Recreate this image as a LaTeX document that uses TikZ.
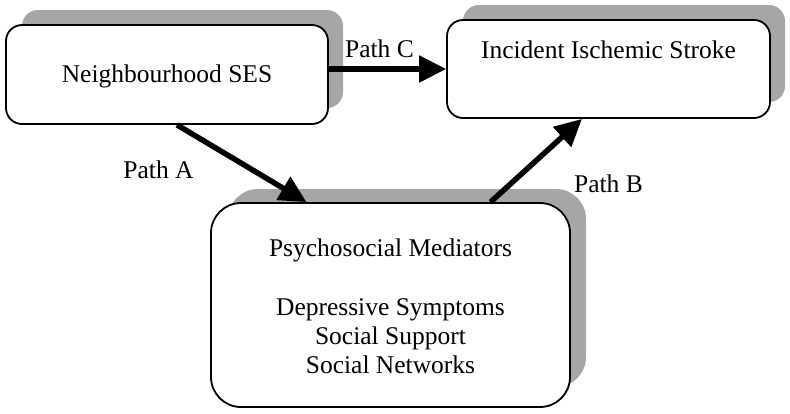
\documentclass[tikz,border=0pt]{standalone}
\usepackage{fontspec}
\setmainfont{Liberation Serif}
\usetikzlibrary{arrows.meta}
\definecolor{shadowgray}{RGB}{166,166,166}
\begin{document}
\begin{tikzpicture}[x=1pt,y=-1pt,
  box/.style={draw=black,line width=1.8pt,fill=white,rounded corners=16pt,inner sep=0pt},
  lbl/.style={font=\fontsize{25.5}{29}\selectfont,inner sep=0pt},
  patharrow/.style={line width=5.5pt,-{Triangle[length=27pt,width=26pt]}}]
\useasboundingbox (0,0) rectangle (790,413);
% shadows
\fill[shadowgray,rounded corners=16pt] (22,10) rectangle (343,108);
\fill[shadowgray,rounded corners=16pt] (463,5) rectangle (785,102);
\fill[shadowgray,rounded corners=30pt] (228,189) rectangle (586,387);
% boxes
\node[box,minimum width=322pt,minimum height=99pt] (ses) at (167,74.5) {};
\node[box,minimum width=323pt,minimum height=98pt] (stroke) at (608.5,69) {};
\node[box,rounded corners=30pt,minimum width=359pt,minimum height=204pt] (med) at (390.5,305) {};
% texts
\node[lbl,anchor=base] (sestext) at (167,82) {Neighbourhood SES};
\node[lbl,anchor=base] (stroketext) at (608.5,58) {Incident Ischemic Stroke};
\node[lbl,anchor=north,align=center] (medtext) at (390.5,238.5)
  {Psychosocial Mediators\\[30pt]Depressive Symptoms\\Social Support\\Social Networks};
% connectors
\draw[patharrow] (ses.east |- stroke.west) -- (stroke.west);
\draw[patharrow] ([xshift=10pt]ses.south) -- ([xshift=-84pt]med.north);
\draw[patharrow] ([xshift=100pt]med.north) -- ([xshift=-26.5pt]stroke.south);
% labels
\node[lbl,anchor=base] (pc) at (379.5,57) {Path C};
\node[lbl,anchor=base] (pa) at (158.5,178) {Path A};
\node[lbl,anchor=base] (pb) at (608.5,192) {Path B};
\end{tikzpicture}
\end{document}
